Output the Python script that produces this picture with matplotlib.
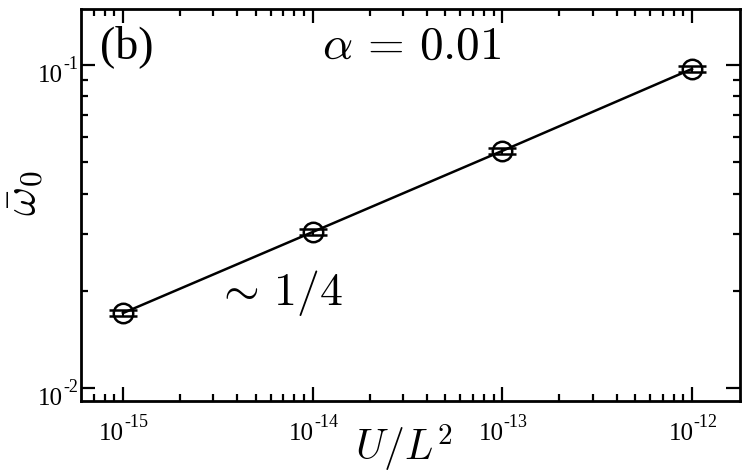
import numpy as np
import matplotlib
matplotlib.use('Agg')
import matplotlib.pyplot as plt
from matplotlib.ticker import LogLocator, FixedLocator, NullFormatter

# data
u_over_l2 = [1e-15, 1e-14, 1e-13, 1e-12]
omega0 = [0.01706, 0.0304, 0.0542, 0.0972]
omega0_err = [0.00035, 0.0006, 0.0011, 0.0019]

xtick_vals = [1e-15, 1e-14, 1e-13, 1e-12]
xtick_exps = ['-15', '-14', '-13', '-12']
ytick_vals = [1e-2, 1e-1]
ytick_exps = ['-2', '-1']

plt.rcParams['font.family'] = ['Liberation Serif', 'DejaVu Serif']
plt.rcParams['mathtext.fontset'] = 'cm'

fig = plt.figure(figsize=(7.48, 4.76), dpi=100)
ax = fig.add_axes([81 / 748, 1 - 401 / 476, 659 / 748, 392 / 476])

ax.errorbar(u_over_l2, omega0, yerr=omega0_err, fmt='-', color='black', lw=1.8,
            marker='o', ms=14, mfc='none', mec='black', mew=1.8,
            ecolor='black', elinewidth=1.5, capsize=10, capthick=1.6)

ax.set_xscale('log')
ax.set_yscale('log')
ax.set_xlim(10 ** -15.221, 10 ** -11.747)
ax.set_ylim(10 ** -2.040, 10 ** -0.827)

ax.xaxis.set_major_locator(FixedLocator(xtick_vals))
ax.yaxis.set_major_locator(FixedLocator(ytick_vals))
ax.xaxis.set_minor_locator(LogLocator(base=10, subs=np.arange(2, 10), numticks=20))
ax.yaxis.set_minor_locator(LogLocator(base=10, subs=np.arange(2, 10), numticks=20))
ax.xaxis.set_major_formatter(NullFormatter())
ax.yaxis.set_major_formatter(NullFormatter())
ax.xaxis.set_minor_formatter(NullFormatter())
ax.yaxis.set_minor_formatter(NullFormatter())

ax.tick_params(which='both', direction='in', top=True, right=True, width=1.6)
ax.tick_params(which='major', length=10)
ax.tick_params(which='minor', length=5)
for sp in ax.spines.values():
    sp.set_linewidth(2)

# tick labels: "10" with a hyphen exponent, Times style
for xv, e in zip(xtick_vals, xtick_exps):
    ax.annotate('10', xy=(xv, 0), xycoords=('data', 'axes fraction'),
                xytext=(1, -28), textcoords='offset points',
                ha='right', va='baseline', fontsize=18, annotation_clip=False)
    ax.annotate(e, xy=(xv, 0), xycoords=('data', 'axes fraction'),
                xytext=(1, -19), textcoords='offset points',
                ha='left', va='baseline', fontsize=13, annotation_clip=False)
for yv, e in zip(ytick_vals, ytick_exps):
    ax.annotate('10', xy=(0, yv), xycoords=('axes fraction', 'data'),
                xytext=(-13, -12), textcoords='offset points',
                ha='right', va='baseline', fontsize=18, annotation_clip=False)
    ax.annotate(e, xy=(0, yv), xycoords=('axes fraction', 'data'),
                xytext=(-13, -3), textcoords='offset points',
                ha='left', va='baseline', fontsize=13, annotation_clip=False)

ax.set_xlabel(r'$U/L^2$', fontsize=30)
ax.xaxis.set_label_coords(0.49, -0.055)
ax.set_ylabel(r'$\bar{\omega}_0$', fontsize=32)
ax.yaxis.set_label_coords(-0.055, 0.53)

ax.text(0.029, 0.96, '(b)', transform=ax.transAxes, fontsize=33,
        ha='left', va='top')
ax.text(0.365, 0.955, r'$\alpha\,=\,0.01$', transform=ax.transAxes, fontsize=34,
        ha='left', va='top')
ax.text(0.204, 0.34, r'$\sim\,1/4$', transform=ax.transAxes, fontsize=33,
        ha='left', va='top')

plt.savefig('out.png', dpi=100)
plt.close(fig)
